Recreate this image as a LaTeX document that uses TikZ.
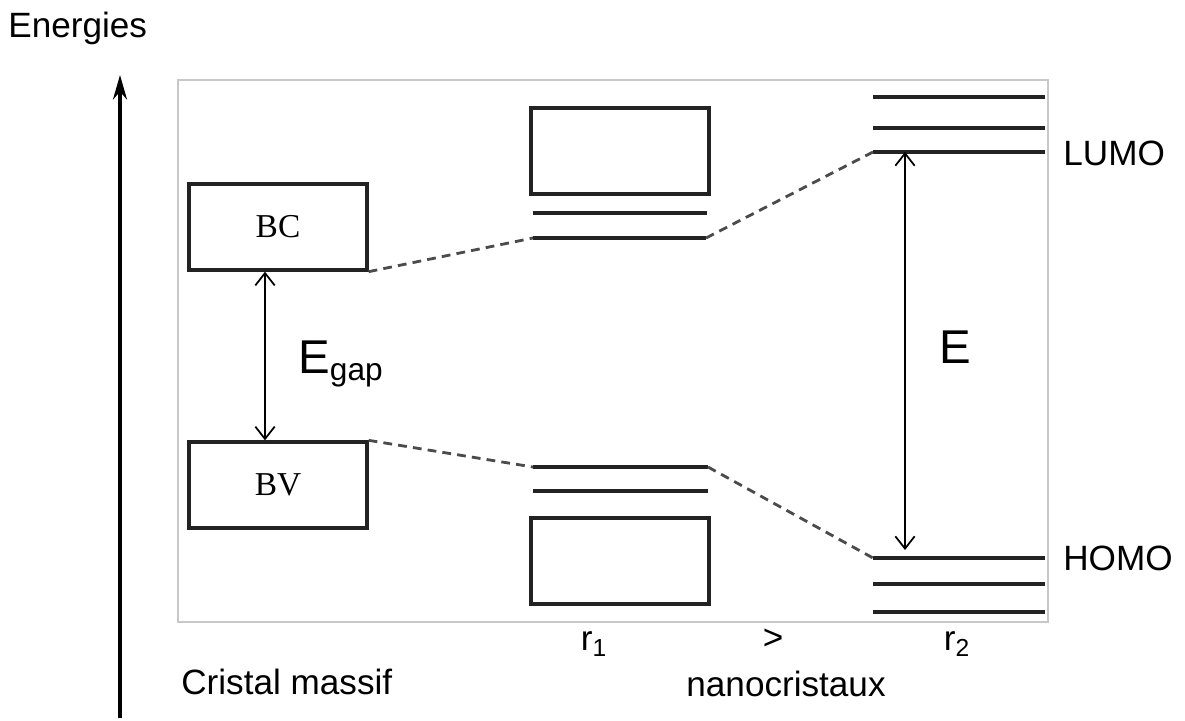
\documentclass[tikz,border=0pt]{standalone}
\usepackage{fontspec}
\setmainfont{Liberation Sans}
\newfontfamily\bandfont{Liberation Serif}
\usetikzlibrary{calc,arrows.meta}
\definecolor{frameGray}{RGB}{200,200,200}
\definecolor{levelInk}{RGB}{35,35,35}
\definecolor{dashInk}{RGB}{75,75,75}
\tikzset{
  bandbox/.style={draw=levelInk,line width=1.9pt,minimum width=3.56cm,minimum height=1.72cm,inner sep=0pt,font=\bandfont\fontsize{19}{20}\selectfont},
  level/.style={draw=levelInk,line width=1.9pt},
  link/.style={draw=dashInk,line width=1.6pt,dash pattern=on 5pt off 3.5pt},
  gaparrow/.style={line width=1pt,{Straight Barb[length=7pt,width=11pt]}-{Straight Barb[length=7pt,width=11pt]}},
  lab/.style={font=\fontsize{20}{23}\selectfont,inner sep=0pt},
  biglab/.style={font=\fontsize{27}{30}\selectfont,inner sep=0pt},
}

\begin{document}
\begin{tikzpicture}[x=0.02cm,y=-0.02cm]
\useasboundingbox (0,0) rectangle (1185,720);
% cadre
\draw[frameGray,line width=0.8pt] (178,80) rectangle (1048,622);
% axe des energies
\coordinate (axisLow) at (120,718);
\coordinate (axisTop) at (120,75);
\draw[line width=1.9pt,-{Stealth[length=14pt,width=8pt]}] (axisLow) -- (axisTop);
\node[lab,anchor=west] (energyLab) at (8,28) {Energies};
% cristal massif
\node[bandbox] (BC) at (278,227) {BC};
\node[bandbox] (BV) at (278,485) {BV};
\draw[gaparrow] ([xshift=-0.26cm]BC.south) -- ([xshift=-0.26cm]BV.north);
\node[biglab,anchor=west] (gapLab) at (298,364) {E\textsubscript{\fontsize{18}{20}\selectfont gap}};
% nanocristal r1
\node[bandbox] (r1C) at (620,151) {};
\node[bandbox] (r1V) at (620,561) {};
\coordinate (c2a) at (533,213); \coordinate (c2b) at (707,213);
\coordinate (c1a) at (533,238); \coordinate (c1b) at (706,238);
\coordinate (v1a) at (533,467); \coordinate (v1b) at (708,467);
\coordinate (v2a) at (533,491); \coordinate (v2b) at (708,491);
\draw[level] (c2a) -- (c2b);
\draw[level] (c1a) -- (c1b);
\draw[level] (v1a) -- (v1b);
\draw[level] (v2a) -- (v2b);
% nanocristal r2
\coordinate (l3a) at (873,97);  \coordinate (l3b) at (1045,97);
\coordinate (l2a) at (873,128); \coordinate (l2b) at (1045,128);
\coordinate (lumoA) at (873,152); \coordinate (lumoB) at (1045,152);
\coordinate (homoA) at (873,558); \coordinate (homoB) at (1045,558);
\coordinate (h2a) at (873,584); \coordinate (h2b) at (1045,584);
\coordinate (h3a) at (873,612); \coordinate (h3b) at (1045,612);
\foreach \a/\b in {l3a/l3b,l2a/l2b,lumoA/lumoB,homoA/homoB,h2a/h2b,h3a/h3b}
  \draw[level] (\a) -- (\b);
% liaisons en tirets
\draw[link] (BC.south east) -- (c1a);
\draw[link] (c1b) -- (lumoA);
\draw[link] (BV.north east) -- (v1a);
\draw[link] (v1b) -- (homoA);
% ecart E
\coordinate (eTop) at (905,152);
\coordinate (eLow) at (905,558);
\draw[gaparrow,shorten >=0.16cm] (eTop) -- (eLow);
\node[biglab] (eLab) at (955,347) {E};
\node[lab,anchor=west] (lumoLab) at (1063,153) {LUMO};
\node[lab,anchor=west] (homoLab) at (1063,558) {HOMO};
% legendes du bas
\node[lab] (r1Lab) at (594,644) {r\textsubscript{1}};
\node[lab] (cmpLab) at (773,639) {>};
\node[lab] (r2Lab) at (957,644) {r\textsubscript{2}};
\node[lab,anchor=west] (bulkLab) at (181,682) {Cristal massif};
\node[lab] (nanoLab) at (786,684) {nanocristaux};
\end{tikzpicture}
\end{document}
